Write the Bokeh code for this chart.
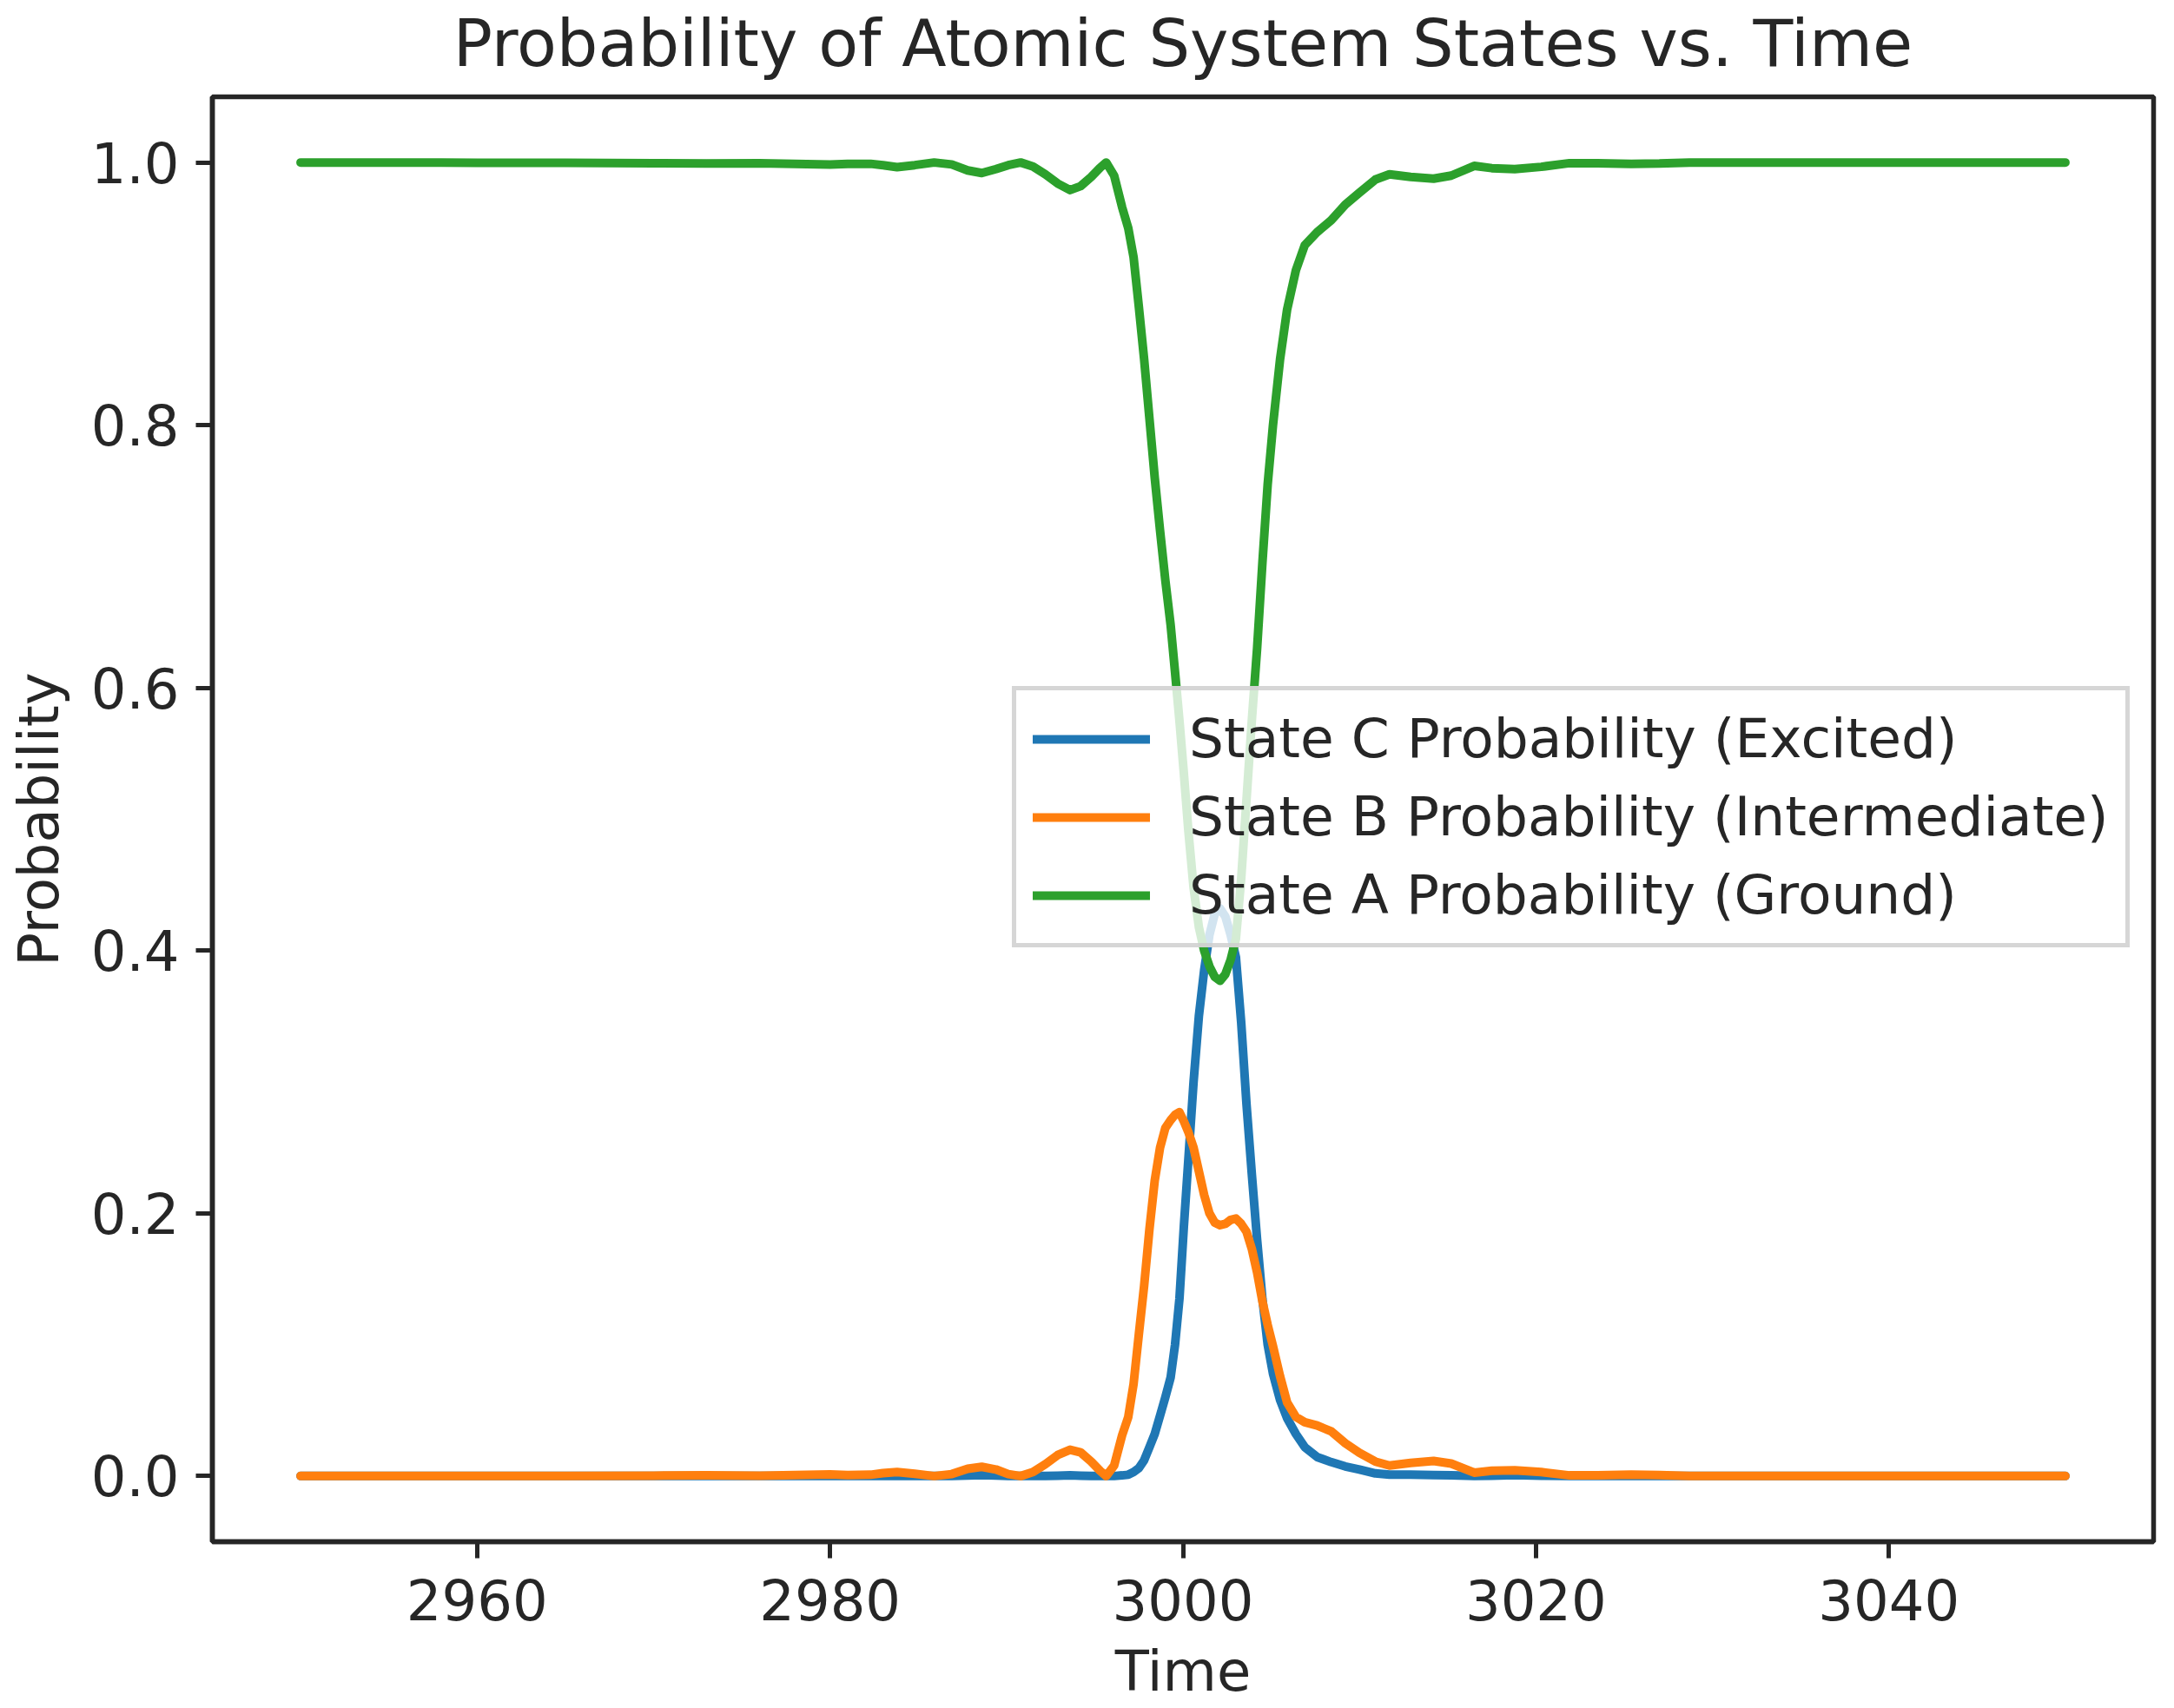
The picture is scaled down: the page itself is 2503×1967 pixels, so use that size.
from bokeh.plotting import figure
from bokeh.models import FixedTicker, Legend, LegendItem, Range1d, LinearAxis
from bokeh.embed import file_html
from bokeh.resources import INLINE

# ---- data ----
time = [2950, 2955, 2960, 2965, 2970, 2973, 2976, 2978, 2980, 2981,
        2982.3, 2983.0, 2983.8, 2984.8, 2985.9, 2986.9, 2987.8, 2988.6, 2989.4, 2990.1,
        2990.8, 2991.5, 2992.2, 2992.9, 2993.6, 2994.2, 2994.8, 2995.3, 2995.65, 2996.1,
        2996.55, 2996.9, 2997.2, 2997.5, 2997.8, 2998.1, 2998.4, 2998.7, 2999.0, 2999.3,
        2999.55, 2999.8, 3000.05, 3000.3, 3000.6, 3000.9, 3001.2, 3001.5, 3001.8, 3002.1,
        3002.4, 3002.7, 3003.0, 3003.3, 3003.6, 3003.9, 3004.2, 3004.5, 3004.8, 3005.1,
        3005.5, 3005.9, 3006.4, 3006.9, 3007.6, 3008.4, 3009.2, 3010.0, 3010.9, 3011.7,
        3012.9, 3014.2, 3015.2, 3016.5, 3017.5, 3018.8, 3020.3, 3021.9, 3023.5, 3025.4,
        3027, 3028.7, 3032, 3036, 3040, 3045, 3050]

state_c = [0, 0, 0, 0, 0, 0, 0, 0, 0, 0,
           0, 0, 0.0003, 0, 0, 0, 0.0004, 0.0008, 0.0004, 0,
           0, 0, 0, 0.0003, 0.0005, 0.0003, 0, 0, 0, 0,
           0.0005, 0.001, 0.003, 0.006, 0.012, 0.022, 0.032, 0.046, 0.060, 0.075,
           0.100, 0.135, 0.190, 0.240, 0.300, 0.350, 0.385, 0.412, 0.428, 0.432,
           0.426, 0.412, 0.395, 0.345, 0.283, 0.230, 0.180, 0.135, 0.100, 0.078,
           0.058, 0.044, 0.032, 0.022, 0.0145, 0.0106, 0.0073, 0.005, 0.002, 0.001,
           0.001, 0.0008, 0.0005, 0.0, 0.0003, 0.0007, 0.0003, 0, 0, 0,
           0, 0, 0, 0, 0, 0, 0]

state_b = [0, 0, 0, 0, 0.0003, 0.0005, 0.0003, 0.0008, 0.0012, 0.0008,
           0.001, 0.0022, 0.003, 0.0017, 0.0, 0.0015, 0.0055, 0.007, 0.005, 0.0015,
           0.0, 0.003, 0.009, 0.016, 0.020, 0.018, 0.011, 0.004, 0.0, 0.008,
           0.031, 0.045, 0.070, 0.108, 0.145, 0.188, 0.225, 0.250, 0.265, 0.271,
           0.275, 0.277, 0.270, 0.262, 0.250, 0.232, 0.214, 0.200, 0.193, 0.191,
           0.192, 0.195, 0.196, 0.192, 0.186, 0.173, 0.155, 0.133, 0.115, 0.099,
           0.076, 0.056, 0.045, 0.041, 0.0385, 0.034, 0.025, 0.0177, 0.011, 0.008,
           0.010, 0.0115, 0.0095, 0.0026, 0.004, 0.0044, 0.003, 0.0005, 0.0005, 0.001,
           0.0008, 0.0, 0, 0, 0, 0, 0]

state_a = [1.0, 1.0, 0.9998, 0.9997, 0.9995, 0.9993, 0.9995, 0.999, 0.9985, 0.999,
           0.999, 0.998, 0.9965, 0.998, 1.0, 0.9985, 0.994, 0.992, 0.995, 0.998,
           1.0, 0.997, 0.991, 0.984, 0.979, 0.982, 0.989, 0.996, 1.0, 0.990,
           0.966, 0.950, 0.928, 0.890, 0.850, 0.805, 0.760, 0.720, 0.682, 0.648,
           0.612, 0.575, 0.535, 0.492, 0.448, 0.418, 0.400, 0.388, 0.380, 0.377,
           0.382, 0.393, 0.409, 0.455, 0.515, 0.575, 0.630, 0.695, 0.755, 0.800,
           0.850, 0.888, 0.918, 0.937, 0.947, 0.956, 0.968, 0.977, 0.987, 0.991,
           0.989, 0.9877, 0.990, 0.9974, 0.9957, 0.9949, 0.9967, 0.9995, 0.9995, 0.999,
           0.9992, 1.0, 1.0, 1.0, 1.0, 1.0, 1.0]

assert len(time) == len(state_a) == len(state_b) == len(state_c)

x_ticks = [2960, 2980, 3000, 3020, 3040]
y_ticks = [0.0, 0.2, 0.4, 0.6, 0.8, 1.0]
y_tick_labels = ["0.0", "0.2", "0.4", "0.6", "0.8", "1.0"]

title_text = "Probability of Atomic System States vs. Time"
x_label = "Time"
y_label = "Probability"
labels = ["State C Probability (Excited)",
          "State B Probability (Intermediate)",
          "State A Probability (Ground)"]
colors = ["#1f77b4", "#ff7f0e", "#2ca02c"]

TXT = "#262626"
FONT = "DejaVu Sans"

p = figure(width=2495, height=1965, output_backend="svg", toolbar_location=None,
           x_range=Range1d(2945, 3055), y_range=Range1d(-0.05, 1.05),
           min_border_left=244, min_border_right=16, min_border_top=111,
           min_border_bottom=190)

p.grid.visible = False
p.outline_line_color = TXT
p.outline_line_width = 5.5
p.background_fill_color = "white"
p.border_fill_color = "white"

p.xaxis.ticker = FixedTicker(ticks=x_ticks)
p.yaxis.ticker = FixedTicker(ticks=y_ticks)
p.yaxis.major_label_overrides = {t: l for t, l in zip(y_ticks, y_tick_labels)}
p.xaxis.axis_label = x_label
p.yaxis.axis_label = y_label

for ax in (p.xaxis, p.yaxis):
    ax.axis_line_color = TXT
    ax.axis_line_width = 5.5
    ax.major_tick_line_color = TXT
    ax.major_tick_line_width = 5
    ax.major_tick_out = 19
    ax.major_tick_in = 0
    ax.minor_tick_line_color = None
    ax.major_label_text_font = FONT
    ax.major_label_text_font_size = "64px"
    ax.major_label_text_color = TXT
    ax.axis_label_text_font = FONT
    ax.axis_label_text_font_size = "64px"
    ax.axis_label_text_font_style = "normal"
    ax.axis_label_text_color = TXT

p.xaxis.axis_label_text_line_height = 0.85
p.xaxis.major_label_standoff = 24
p.xaxis.axis_label_standoff = 19
p.yaxis.major_label_standoff = 19
p.yaxis.axis_label_standoff = 20

# chart title, carried by a tick-less axis above the frame
title_axis = LinearAxis(ticker=FixedTicker(ticks=[]), axis_label=title_text,
                        axis_line_color=None, major_tick_line_color=None,
                        minor_tick_line_color=None, major_tick_out=0, major_tick_in=0,
                        major_label_standoff=0, axis_label_standoff=18,
                        axis_label_text_font=FONT, axis_label_text_font_size="75px",
                        axis_label_text_font_style="normal", axis_label_text_color=TXT)
p.add_layout(title_axis, "above")

series = [state_c, state_b, state_a]
renderers = []
for ys, c in zip(series, colors):
    r = p.line(time, ys, line_color=c, line_width=10, line_join="round", line_cap="round")
    renderers.append(r)

legend = Legend(items=[LegendItem(label=l, renderers=[r]) for l, r in zip(labels, renderers)],
                location=(921, 684), margin=0)
legend.label_text_font = FONT
legend.label_text_font_size = "63px"
legend.label_text_color = TXT
legend.glyph_width = 135
legend.glyph_height = 70
legend.label_height = 70
legend.label_standoff = 45
legend.spacing = 17
legend.padding = 19
legend.background_fill_color = "white"
legend.background_fill_alpha = 0.8
legend.border_line_color = "#cccccc"
legend.border_line_alpha = 0.8
legend.border_line_width = 5
p.add_layout(legend, "center")

open("out.html", "w").write(file_html(p, INLINE))
